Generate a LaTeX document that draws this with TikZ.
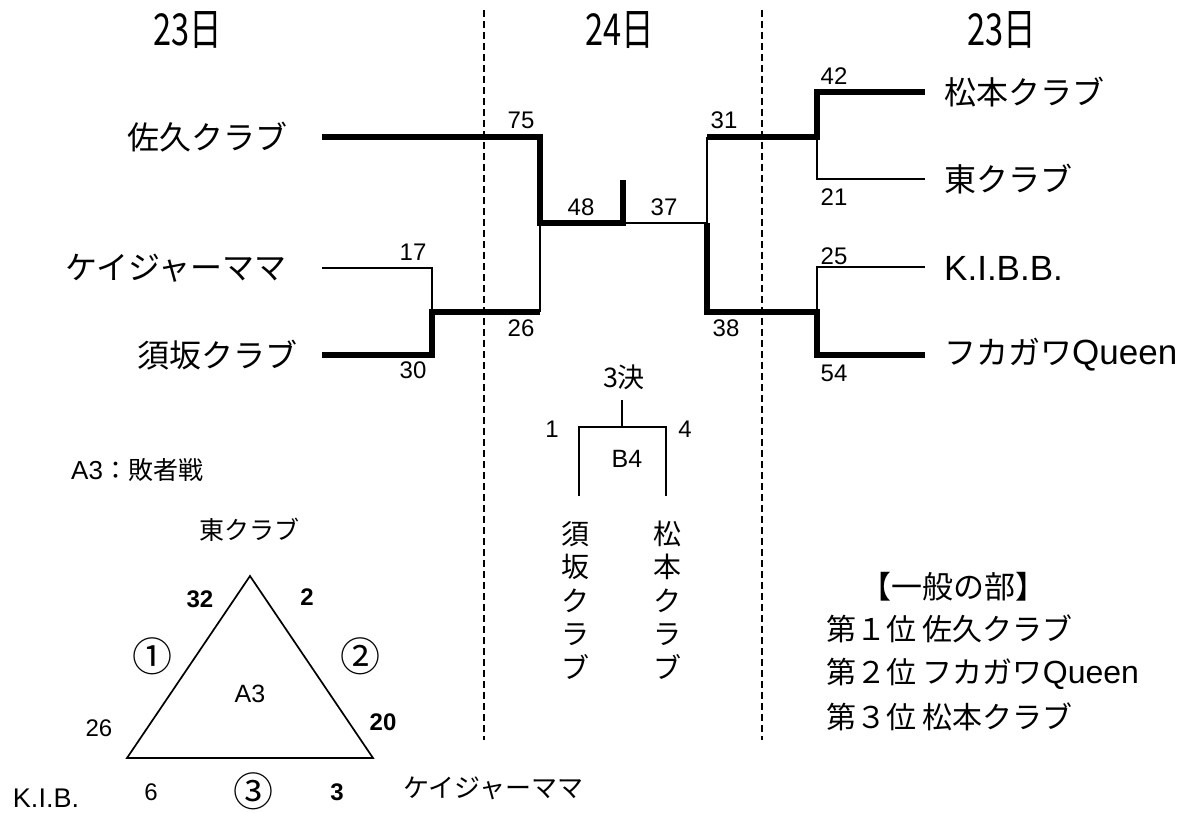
\documentclass[tikz,border=0pt]{standalone}
\usepackage{fontspec}
\setmainfont{Liberation Sans}
\newfontfamily\jp{Noto Sans CJK JP}
\newfontfamily\jpnarrow[FakeStretch=0.74]{Noto Sans CJK JP}
\tikzset{
  win/.style={line width=5.5pt},
  lose/.style={line width=1.7pt},
  daysep/.style={line width=2pt, dash pattern=on 7pt off 4pt},
  team/.style={inner sep=0pt, font=\jp\fontsize{32}{36}\selectfont},
  score/.style={inner sep=0pt, font=\fontsize{24}{26}\selectfont},
  bscore/.style={inner sep=0pt, font=\bfseries\fontsize{24}{26}\selectfont},
  day/.style={inner sep=0pt, font=\jpnarrow\fontsize{44}{46}\selectfont},
  small/.style={inner sep=0pt, font=\jp\fontsize{25}{28}\selectfont},
  circnum/.style={inner sep=0pt, font=\jp\fontsize{40}{42}\selectfont},
  vtext/.style={inner sep=0pt, align=center, font=\jp\fontsize{28}{33.5}\selectfont},
  rank/.style={inner sep=0pt, anchor=west, font=\jp\fontsize{30}{34}\selectfont},
}
\newcommand{\qn}{{\fontspec{Liberation Sans}Queen}}
\begin{document}
\begin{tikzpicture}[x=1pt,y=-1pt]
    \useasboundingbox[fill=white] (0,0) rectangle (1186,813);

    \node[day] (d1) at (188,30) {23日};
    \node[day] (d2) at (620,30) {24日};
    \node[day] (d3) at (1002,30) {23日};

    \coordinate (s1t) at (484,10);
    \coordinate (s1b) at (484,740);
    \coordinate (s2t) at (762,10);
    \coordinate (s2b) at (762,740);
    \draw[daysep] (s1t) -- (s1b);
    \draw[daysep] (s2t) -- (s2b);

    \node[team, anchor=west] (saku) at (127,137) {佐久クラブ};
    \node[team, anchor=east] (kei) at (287,268) {ケイジャーママ};
    \node[team, anchor=west] (suka) at (137,355) {須坂クラブ};
    \node[team, anchor=west] (matsu) at (944,92) {松本クラブ};
    \node[team, anchor=west] (higa) at (944,179) {東クラブ};
    \node[team, anchor=west, font=\fontsize{35}{38}\selectfont] (kibb) at (944,268) {K.I.B.B.};
    \node[team, anchor=west] (fuka) at (944,355) {フカガワ{\fontsize{35}{38}\selectfont\qn}};

    \coordinate (sakuL) at (322,137);
    \coordinate (sakuR) at (540,137);
    \coordinate (keiL) at (322,268);
    \coordinate (keiR) at (432,268);
    \coordinate (sukaL) at (322,355);
    \coordinate (sukaR) at (432,355);
    \coordinate (ksJ) at (432,312);
    \coordinate (ksR) at (540,312);
    \coordinate (semiL) at (540,223);
    \coordinate (finL) at (623,223);
    \coordinate (finTop) at (623,180);
    \coordinate (finR) at (707,223);
    \coordinate (rTop) at (707,137);
    \coordinate (rBot) at (707,312);
    \coordinate (mhJ) at (817,137);
    \coordinate (matsuL) at (817,92);
    \coordinate (matsuR) at (925,92);
    \coordinate (higaL) at (817,179);
    \coordinate (higaR) at (925,179);
    \coordinate (kfJ) at (817,312);
    \coordinate (kibbL) at (817,267);
    \coordinate (kibbR) at (925,267);
    \coordinate (fukaL) at (817,355);
    \coordinate (fukaR) at (925,355);

    \draw[lose] (keiL) -- (keiR) -- (ksJ);
    \draw[lose] (ksR) -- (semiL);
    \draw[lose] (finL) -- (finR) -- (rTop);
    \draw[lose] (mhJ) -- (higaL) -- (higaR);
    \draw[lose] (kibbR) -- (kibbL) -- (kfJ);
    \draw[win] (sakuL) -- (sakuR) -- (semiL) -- (finL) -- (finTop);
    \draw[win] (sukaL) -- (sukaR) -- (ksJ) -- (ksR);
    \draw[win] (finR) -- (rBot) -- (kfJ) -- (fukaL) -- (fukaR);
    \draw[win] (rTop) -- (mhJ) -- (matsuL) -- (matsuR);

    \node[score] (p75) at (521,120) {75};
    \node[score] (p26) at (521,328) {26};
    \node[score] (p17) at (413,252) {17};
    \node[score] (p30) at (413,370) {30};
    \node[score] (p48) at (581,207) {48};
    \node[score] (p37) at (664,207) {37};
    \node[score] (p31) at (724,120) {31};
    \node[score] (p38) at (726,328) {38};
    \node[score] (p42) at (834,76) {42};
    \node[score] (p21) at (834,197) {21};
    \node[score] (p25) at (834,256) {25};
    \node[score] (p54) at (834,373) {54};

    \node[small, font=\jp\fontsize{27}{30}\selectfont] (third) at (624,377) {3決};
    \coordinate (thTop) at (622,400);
    \coordinate (thJ) at (622,427);
    \coordinate (b4L) at (579,427);
    \coordinate (b4R) at (666,427);
    \coordinate (b4Lb) at (579,496);
    \coordinate (b4Rb) at (666,496);
    \draw[lose] (thTop) -- (thJ);
    \draw[lose] (b4Lb) -- (b4L) -- (b4R) -- (b4Rb);
    \node[score] (b4one) at (552,429) {1};
    \node[score] (b4four) at (685,429) {4};
    \node[score, font=\fontsize{25}{27}\selectfont] (b4) at (627,459) {B4};
    \node[vtext] (sukaV) at (575,600) {須\\坂\\ク\\ラ\\ブ};
    \node[vtext] (matsuV) at (667,600) {松\\本\\ク\\ラ\\ブ};

    \node[inner sep=0pt, anchor=west, font=\fontsize{26}{28}\selectfont] (a3t) at (71,470) {A3{\jp\fontsize{25}{28}\selectfont ：敗者戦}};
    \node[small] (tHiga) at (249,530) {東クラブ};
    \coordinate (apex) at (250,576);
    \coordinate (bl) at (127,758);
    \coordinate (br) at (373,758);
    \draw[lose] (apex) -- (bl) -- (br) -- cycle;
    \node[score, font=\fontsize{25}{27}\selectfont] (a3) at (250,694) {A3};
    \node[bscore] (t32) at (200,599) {32};
    \node[bscore] (t2) at (307,597) {2};
    \node[score] (t26) at (99,728) {26};
    \node[bscore] (t20) at (383,722) {20};
    \node[score] (t6) at (151,792) {6};
    \node[bscore] (t3) at (337,792) {3};
    \node[circnum] (c1) at (152,656) {①};
    \node[circnum] (c2) at (360,656) {②};
    \node[circnum] (c3) at (253,791) {③};
    \node[score, font=\fontsize{27}{29}\selectfont] (tKib) at (46,798) {K.I.B.};
    \node[small, anchor=west, font=\jp\fontsize{26}{28}\selectfont] (tKei) at (403,788) {ケイジャーママ};

    \node[small, font=\jp\fontsize{31}{34}\selectfont] (ippan) at (953,587) {【一般の部】};
    \node[rank] (r1) at (826,629) {第１位 佐久クラブ};
    \node[rank] (r2) at (826,674) {第２位 フカガワ{\fontsize{32}{34}\selectfont\qn}};
    \node[rank] (r3) at (826,717) {第３位 松本クラブ};
\end{tikzpicture}
\end{document}
